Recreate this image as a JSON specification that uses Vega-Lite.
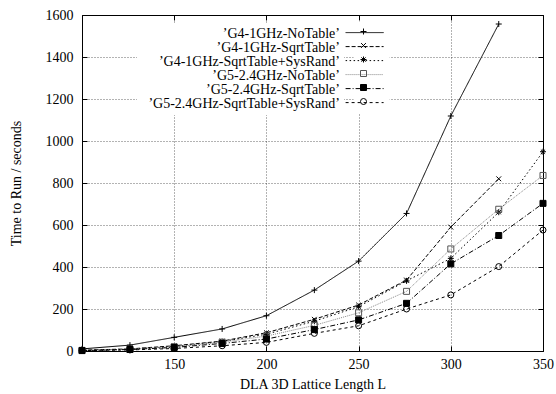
{
  "$schema": "https://vega.github.io/schema/vega-lite/v6.json",
  "width": 461,
  "height": 336,
  "autosize": {"type": "none"},
  "padding": {"left": 82, "top": 15, "right": 13, "bottom": 43},
  "background": "white",
  "config": {
    "font": "Liberation Serif",
    "view": {"stroke": "black", "strokeWidth": 1},
    "axis": {
      "labelFont": "Liberation Serif",
      "titleFont": "Liberation Serif",
      "labelFontSize": 14,
      "titleFontSize": 14,
      "titleFontWeight": "normal",
      "labelColor": "black",
      "titleColor": "black",
      "domainColor": "black",
      "tickColor": "black",
      "gridColor": "black",
      "gridDash": [1, 2],
      "gridOpacity": 1,
      "gridWidth": 0.6
    },
    "legend": {"labelFont": "Liberation Serif", "labelFontSize": 14, "labelColor": "black", "labelLimit": 300, "rowPadding": -0.9, "title": null}
  },
  "data": {
    "values": [
      {"L": 100, "T": 10, "series": "G4-1GHz-NoTable"},
      {"L": 126, "T": 28, "series": "G4-1GHz-NoTable"},
      {"L": 150, "T": 65, "series": "G4-1GHz-NoTable"},
      {"L": 176, "T": 105, "series": "G4-1GHz-NoTable"},
      {"L": 200, "T": 168, "series": "G4-1GHz-NoTable"},
      {"L": 226, "T": 290, "series": "G4-1GHz-NoTable"},
      {"L": 250, "T": 428, "series": "G4-1GHz-NoTable"},
      {"L": 276, "T": 655, "series": "G4-1GHz-NoTable"},
      {"L": 300, "T": 1119, "series": "G4-1GHz-NoTable"},
      {"L": 326, "T": 1557, "series": "G4-1GHz-NoTable"},
      {"L": 100, "T": 4, "series": "G4-1GHz-SqrtTable"},
      {"L": 126, "T": 10, "series": "G4-1GHz-SqrtTable"},
      {"L": 150, "T": 25, "series": "G4-1GHz-SqrtTable"},
      {"L": 176, "T": 47, "series": "G4-1GHz-SqrtTable"},
      {"L": 200, "T": 87, "series": "G4-1GHz-SqrtTable"},
      {"L": 226, "T": 151, "series": "G4-1GHz-SqrtTable"},
      {"L": 250, "T": 219, "series": "G4-1GHz-SqrtTable"},
      {"L": 276, "T": 338, "series": "G4-1GHz-SqrtTable"},
      {"L": 300, "T": 590, "series": "G4-1GHz-SqrtTable"},
      {"L": 326, "T": 820, "series": "G4-1GHz-SqrtTable"},
      {"L": 100, "T": 3, "series": "G4-1GHz-SqrtTable+SysRand"},
      {"L": 126, "T": 9, "series": "G4-1GHz-SqrtTable+SysRand"},
      {"L": 150, "T": 22, "series": "G4-1GHz-SqrtTable+SysRand"},
      {"L": 176, "T": 45, "series": "G4-1GHz-SqrtTable+SysRand"},
      {"L": 200, "T": 80, "series": "G4-1GHz-SqrtTable+SysRand"},
      {"L": 226, "T": 142, "series": "G4-1GHz-SqrtTable+SysRand"},
      {"L": 250, "T": 211, "series": "G4-1GHz-SqrtTable+SysRand"},
      {"L": 276, "T": 334, "series": "G4-1GHz-SqrtTable+SysRand"},
      {"L": 300, "T": 441, "series": "G4-1GHz-SqrtTable+SysRand"},
      {"L": 326, "T": 661, "series": "G4-1GHz-SqrtTable+SysRand"},
      {"L": 350, "T": 949, "series": "G4-1GHz-SqrtTable+SysRand"},
      {"L": 100, "T": 3, "series": "G5-2.4GHz-NoTable"},
      {"L": 126, "T": 8, "series": "G5-2.4GHz-NoTable"},
      {"L": 150, "T": 20, "series": "G5-2.4GHz-NoTable"},
      {"L": 176, "T": 42, "series": "G5-2.4GHz-NoTable"},
      {"L": 200, "T": 71, "series": "G5-2.4GHz-NoTable"},
      {"L": 226, "T": 122, "series": "G5-2.4GHz-NoTable"},
      {"L": 250, "T": 182, "series": "G5-2.4GHz-NoTable"},
      {"L": 276, "T": 284, "series": "G5-2.4GHz-NoTable"},
      {"L": 300, "T": 486, "series": "G5-2.4GHz-NoTable"},
      {"L": 326, "T": 675, "series": "G5-2.4GHz-NoTable"},
      {"L": 350, "T": 836, "series": "G5-2.4GHz-NoTable"},
      {"L": 100, "T": 2, "series": "G5-2.4GHz-SqrtTable"},
      {"L": 126, "T": 7, "series": "G5-2.4GHz-SqrtTable"},
      {"L": 150, "T": 17, "series": "G5-2.4GHz-SqrtTable"},
      {"L": 176, "T": 36, "series": "G5-2.4GHz-SqrtTable"},
      {"L": 200, "T": 57, "series": "G5-2.4GHz-SqrtTable"},
      {"L": 226, "T": 102, "series": "G5-2.4GHz-SqrtTable"},
      {"L": 250, "T": 148, "series": "G5-2.4GHz-SqrtTable"},
      {"L": 276, "T": 227, "series": "G5-2.4GHz-SqrtTable"},
      {"L": 300, "T": 415, "series": "G5-2.4GHz-SqrtTable"},
      {"L": 326, "T": 550, "series": "G5-2.4GHz-SqrtTable"},
      {"L": 350, "T": 703, "series": "G5-2.4GHz-SqrtTable"},
      {"L": 100, "T": 2, "series": "G5-2.4GHz-SqrtTable+SysRand"},
      {"L": 126, "T": 5, "series": "G5-2.4GHz-SqrtTable+SysRand"},
      {"L": 150, "T": 12, "series": "G5-2.4GHz-SqrtTable+SysRand"},
      {"L": 176, "T": 25, "series": "G5-2.4GHz-SqrtTable+SysRand"},
      {"L": 200, "T": 41, "series": "G5-2.4GHz-SqrtTable+SysRand"},
      {"L": 226, "T": 84, "series": "G5-2.4GHz-SqrtTable+SysRand"},
      {"L": 250, "T": 120, "series": "G5-2.4GHz-SqrtTable+SysRand"},
      {"L": 276, "T": 200, "series": "G5-2.4GHz-SqrtTable+SysRand"},
      {"L": 300, "T": 267, "series": "G5-2.4GHz-SqrtTable+SysRand"},
      {"L": 326, "T": 402, "series": "G5-2.4GHz-SqrtTable+SysRand"},
      {"L": 350, "T": 576, "series": "G5-2.4GHz-SqrtTable+SysRand"}
    ]
  },
  "layer": [
    {
      "mark": {"type": "line", "strokeWidth": 1, "clip": true},
      "encoding": {
        "x": {
          "field": "L", "type": "quantitative",
          "scale": {"domain": [100, 350], "nice": false, "zero": false},
          "axis": {"values": [150, 200, 250, 300, 350], "title": "DLA 3D Lattice Length L", "grid": true, "tickSize": -5, "labelPadding": 11, "titlePadding": 6, "labelFlush": false}
        },
        "y": {
          "field": "T", "type": "quantitative",
          "scale": {"domain": [0, 1600], "nice": false},
          "axis": {"values": [0, 200, 400, 600, 800, 1000, 1200, 1400, 1600], "format": "d", "title": "Time to Run / seconds", "grid": true, "tickSize": -5, "labelPadding": 14, "titlePadding": 22, "labelFlush": false}
        },
        "stroke": {
          "field": "series", "type": "nominal",
          "scale": {"domain": ["G4-1GHz-NoTable", "G4-1GHz-SqrtTable", "G4-1GHz-SqrtTable+SysRand", "G5-2.4GHz-NoTable", "G5-2.4GHz-SqrtTable", "G5-2.4GHz-SqrtTable+SysRand"], "range": ["black", "black", "black", "#888888", "black", "black"]},
          "legend": {"orient": "none", "legendX": 271.6, "legendY": 6.6, "symbolType": "M-10,0L10,0", "symbolSize": 14.44, "symbolStrokeWidth": 1, "labelOffset": 0, "labelExpr": "' '", "padding": 4, "fillColor": "white"}
        },
        "strokeDash": {
          "field": "series", "type": "nominal",
          "scale": {"domain": ["G4-1GHz-NoTable", "G4-1GHz-SqrtTable", "G4-1GHz-SqrtTable+SysRand", "G5-2.4GHz-NoTable", "G5-2.4GHz-SqrtTable", "G5-2.4GHz-SqrtTable+SysRand"], "range": [[1, 0], [4, 2], [1.5, 2.5], [1, 1], [5, 2, 1, 2], [3, 3]]},
          "legend": {"orient": "none", "legendX": 271.6, "legendY": 6.6, "symbolType": "M-10,0L10,0", "symbolSize": 14.44, "symbolStrokeWidth": 1, "labelOffset": 0, "labelExpr": "' '", "padding": 4, "fillColor": "white"}
        },
        "opacity": {
          "field": "series", "type": "nominal",
          "scale": {"domain": {"unionWith": ["G4-1GHz-NoTable", "G4-1GHz-SqrtTable", "G4-1GHz-SqrtTable+SysRand", "G5-2.4GHz-NoTable", "G5-2.4GHz-SqrtTable", "G5-2.4GHz-SqrtTable+SysRand"]}, "range": [1, 1, 1, 1, 1, 1]},
          "legend": {"orient": "none", "legendX": 55, "legendY": 8, "symbolType": "circle", "symbolSize": 1, "symbolOpacity": 0, "symbolStrokeWidth": 0, "labelAlign": "right", "labelOffset": 185, "padding": 4, "fillColor": "white", "labelExpr": "'\u2019' + datum.label + '\u2019'"}
        }
      }
    },
    {
      "mark": {"type": "point", "filled": false, "strokeWidth": 1, "size": 36, "opacity": 1},
      "encoding": {
        "x": {
          "field": "L", "type": "quantitative",
          "axis": {"orient": "top", "values": [150, 200, 250, 300, 350], "labels": false, "title": null, "grid": false, "tickSize": -5, "domain": false}
        },
        "y": {
          "field": "T", "type": "quantitative",
          "axis": {"orient": "right", "values": [0, 200, 400, 600, 800, 1000, 1200, 1400, 1600], "labels": false, "title": null, "grid": false, "tickSize": -5, "domain": false}
        },
        "shape": {
          "field": "series", "type": "nominal",
          "scale": {"range": ["M-1,0L1,0M0,-1L0,1", "M-0.8,-0.8L0.8,0.8M-0.8,0.8L0.8,-0.8", "M-1,0L1,0M0,-1L0,1M-0.7,-0.7L0.7,0.7M-0.7,0.7L0.7,-0.7", "square", "square", "circle"]},
          "legend": {"orient": "none", "legendX": 274.5, "legendY": 9.5, "symbolSize": 36, "symbolStrokeWidth": 1, "labelExpr": "' '", "labelOffset": 0, "padding": 0}
        },
        "color": {
          "field": "series", "type": "nominal",
          "scale": {"range": ["black", "black", "black", "#555555", "black", "black"]},
          "legend": {"orient": "none", "legendX": 274.5, "legendY": 9.5, "symbolSize": 36, "symbolStrokeWidth": 1, "labelExpr": "' '", "labelOffset": 0, "padding": 0}
        },
        "fill": {
          "field": "series", "type": "nominal",
          "scale": {"range": ["transparent", "transparent", "transparent", "transparent", "black", "transparent"]},
          "legend": {"orient": "none", "legendX": 274.5, "legendY": 9.5, "symbolSize": 36, "symbolStrokeWidth": 1, "labelExpr": "' '", "labelOffset": 0, "padding": 0}
        }
      }
    }
  ],
  "resolve": {"axis": {"x": "independent", "y": "independent"}}
}
